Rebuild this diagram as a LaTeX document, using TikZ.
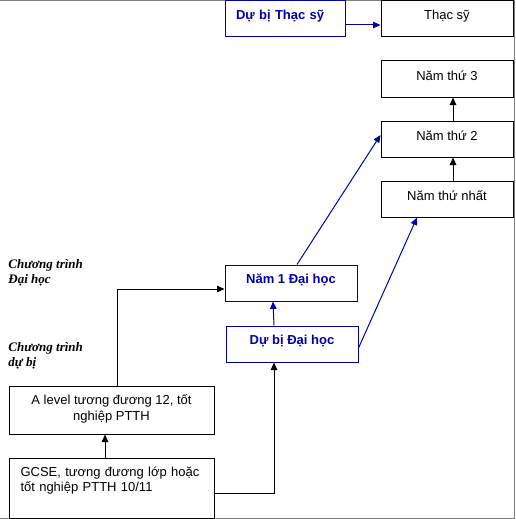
\documentclass[tikz,border=0pt]{standalone}
\usepackage{fontspec}
\setmainfont{Liberation Sans}
\newfontfamily\notefont{Liberation Serif}
\usetikzlibrary{arrows.meta}
\definecolor{darkblue}{RGB}{0,0,170}
\definecolor{framegray}{RGB}{128,128,128}

\begin{document}
\begin{tikzpicture}[x=1pt, y=-1pt, line width=1pt,
    font=\fontsize{13}{15.6}\selectfont,
    box/.style={draw, inner sep=0pt, minimum width=132pt, text height=19pt, text depth=17pt},
    bluebox/.style={box, draw=darkblue, text=darkblue, font=\fontsize{13}{15.6}\selectfont\bfseries, text height=18pt, text depth=18pt},
    arr/.style={-{Triangle[length=7.5pt,width=6.5pt]}},
    note/.style={font=\fontsize{13}{15.5}\notefont\bfseries\itshape, align=left, anchor=base west, inner sep=0pt}]

    \useasboundingbox (0,0) rectangle (515,519);
    \draw [framegray] (0,0.5) -- (514.5,0.5) -- (514.5,518.5) -- (0,518.5);

    % top row
    \node [bluebox, minimum width=120pt, text width=98pt, inner xsep=11pt, align=left, text height=19pt, text depth=17pt] (dbts) at (285,19) {Dự bị Thạc sỹ};
    \node [box] (thacsy) at (447,19) {Thạc sỹ};

    % university years
    \node [box] (nam3) at (447,79) {Năm thứ 3};
    \node [box] (nam2) at (447,139) {Năm thứ 2};
    \node [box] (nam1st) at (447,199) {Năm thứ nhất};

    \node [bluebox] (nam1dh) at (291,283) {Năm 1 Đại học};
    \node [bluebox] (dbdh) at (292,344) {Dự bị Đại học};

    % school
    \node [box, minimum width=205pt, align=center, text height=34pt, text depth=14pt] (alevel) at (111.5,410) {A level tương đương 12, tốt\\nghiệp PTTH};
    \node [box, minimum width=205pt, text width=182pt, inner xsep=11.5pt, align=left, text height=18pt, text depth=42pt] (gcse) at (111.5,488) {GCSE, tương đương lớp hoặc\\tốt nghiệp PTTH 10/11};

    % the last line of a note sits on the given point
    \node [note] (lbdh) at (8,283.5) {Chương trình\\Đại học};
    \node [note] (lbdb) at (8,366.7) {Chương trình\\dự bị};

    % connectors
    \draw [darkblue, arr] ([yshift=-6pt]dbts.east) -- ([yshift=-6pt]thacsy.west);
    \foreach \a/\b in {nam1st/nam2, nam2/nam3}
        {
            \draw [arr] ([xshift=6pt]\a.north) -- ([xshift=6pt]\b.south);
        }
    \draw [darkblue, arr] ([xshift=-18pt]dbdh.north) -- ([xshift=-18pt]nam1dh.south);
    \draw [darkblue, arr] ([xshift=6pt]nam1dh.north) -- ([yshift=4pt]nam2.west);
    \draw [darkblue, arr] ([yshift=-4pt]dbdh.east) -- ([xshift=-30pt]nam1st.south);

    \draw [arr] ([xshift=-6.5pt]gcse.north) -- ([xshift=-6.5pt]alevel.south);
    \draw [arr] ([xshift=5.5pt]alevel.north) |- ([yshift=-6pt]nam1dh.west);
    \draw [arr] ([yshift=-5pt]gcse.east) -| ([xshift=-18pt]dbdh.south);
\end{tikzpicture}
\end{document}
